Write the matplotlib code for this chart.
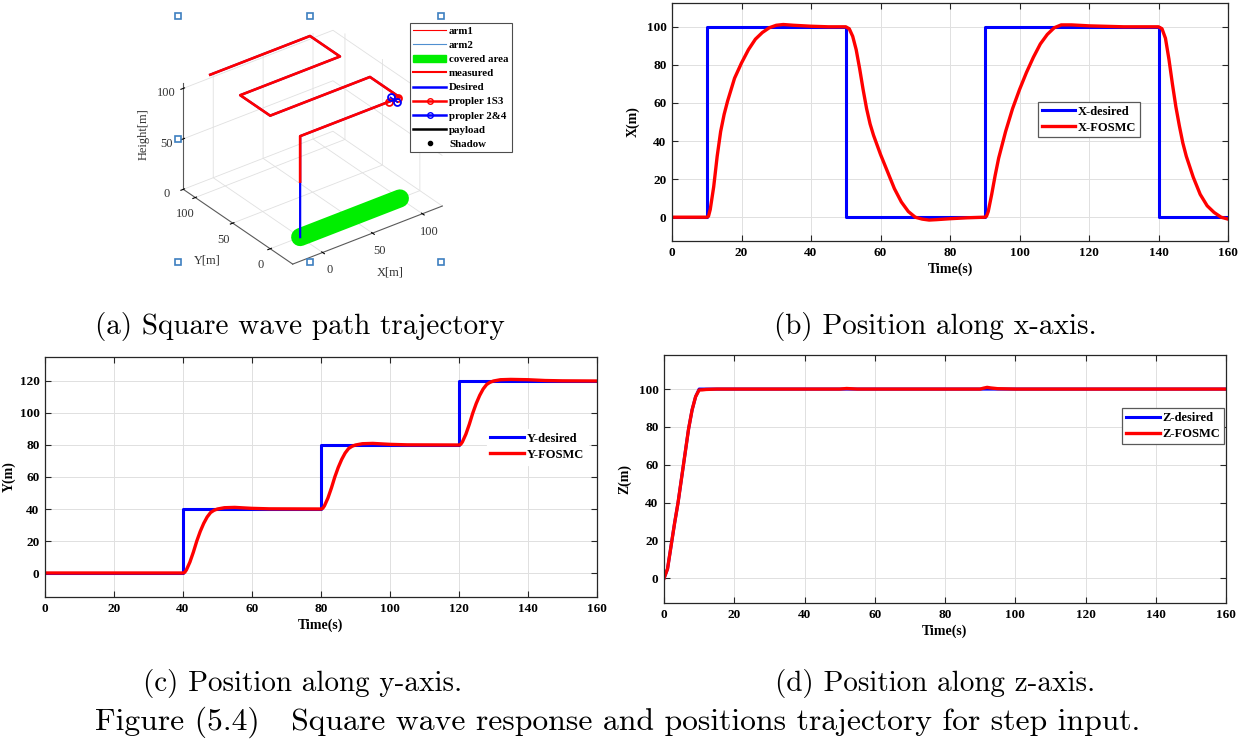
import numpy as np
import matplotlib
matplotlib.use('Agg')
import matplotlib.pyplot as plt
from matplotlib.lines import Line2D
from matplotlib.patches import Patch

# ---- data ----
# (b) x position
t_x_des = [0, 10, 10, 50, 50, 90, 90, 140, 140, 160]
x_des = [0, 0, 100, 100, 0, 0, 100, 100, 0, 0]
t_x_fos = [0, 10, 10.5, 11, 12, 13, 14, 15, 16, 17, 18, 20, 22, 24, 26, 28, 30, 32, 35, 40, 45, 50,
           51, 52, 53, 54, 55, 56, 57, 58, 60, 62, 64, 66, 68, 70, 72, 74, 76, 80, 85, 90,
           90.5, 91, 92, 93, 94, 95, 96, 98, 100, 102, 104, 106, 108, 110, 112, 115, 120, 130, 140,
           141, 142, 143, 144, 145, 146, 147, 148, 150, 152, 154, 156, 158, 160]
x_fos = [0, 0, 0.5, 4, 16, 32, 45, 54, 61, 67, 73, 81, 88, 93.5, 97, 99.5, 100.8, 101.2, 100.8, 100.3, 100, 100,
         99, 95, 88, 78, 67, 57, 49, 43, 33, 24, 15, 8, 3, 0, -1, -1.5, -1.3, -0.8, -0.3, 0,
         0.5, 3, 12, 22, 31, 38, 45, 57, 67, 76, 84, 91, 96, 99.5, 101, 101, 100.5, 100, 100,
         99, 94, 83, 70, 58, 48, 39, 32, 21, 12, 6, 2.5, 0, -1]

# (c) y position
t_y_des = [0, 40, 40, 80, 80, 120, 120, 160]
y_des = [0, 0, 40, 40, 80, 80, 120, 120]
t_y_fos = [0, 40, 40.5, 41, 42, 43, 44, 45, 46, 47, 48, 49, 50, 52, 55, 60, 65,
           80, 80.5, 81, 82, 83, 84, 85, 86, 87, 88, 89, 90, 92, 95, 100, 105,
           120, 120.5, 121, 122, 123, 124, 125, 126, 127, 128, 129, 130, 132, 135, 140, 145, 150, 160]
y_fos = [0, 0, 0.4, 2, 6.8, 13, 20, 26, 31, 35, 37.8, 39.2, 40, 40.8, 41, 40.4, 40.1,
         40, 40.4, 42, 46.8, 53, 60, 66, 71, 75, 77.8, 79.2, 80, 80.8, 81, 80.4, 80.1,
         80, 80.4, 82, 86.8, 93, 100, 106, 111, 115, 117.8, 119.2, 120, 120.8, 121, 120.8, 120.3, 120.1, 120]

# (d) z position
t_z_des = [0, 1, 2, 3, 4, 5, 6, 7, 8, 9, 10, 160]
z_des = [0, 5, 17, 29, 40, 53, 66, 79, 89, 96, 100, 100]
t_z_fos = [0, 1, 2, 3, 4, 5, 6, 7, 8, 9, 10, 11, 12, 15, 50, 52, 55, 90, 91, 92, 93, 95, 100, 160]
z_fos = [0, 5, 17, 29, 40, 53, 66, 79, 89, 96, 99.5, 99.6, 99.8, 100, 100, 100.3, 100, 100, 100.5, 100.9,
         100.6, 100.2, 100, 100]

# (a) 3D path
path_x = [0, 0, 100, 100, 0, 0, 100, 100, 0]
path_y = [0, 0, 0, 40, 40, 80, 80, 120, 120]
path_z = [0, 100, 100, 100, 100, 100, 100, 100, 100]
meas_x = [0, 0, 100, 100, 0, 0, 100, 100, 0]
meas_y = [0, 0, 0, 40, 40, 80, 80, 120, 120]
meas_z = [55, 100, 100, 100, 100, 100, 100, 100, 100]
cover_x = [0, 100]
cover_y = [0, 0]
cover_z = [0, 0]
prop13_x = [89.5, 98.5]
prop13_y = [0, 0]
prop24_x = [94, 94]
prop24_y = [-4.5, 4.5]
prop_z = [100, 100]

W, H = 1244, 744
fig = plt.figure(figsize=(W / 100, H / 100), dpi=100)

tick_font = {'family': 'Liberation Serif', 'weight': 'bold', 'size': 9.5}
lab_font = {'family': 'Liberation Serif', 'weight': 'bold', 'size': 10}
leg_font = {'family': 'Liberation Serif', 'weight': 'bold', 'size': 9}
frame_col = (0.15, 0.15, 0.15)


def px_axes(l, t, r, b, **kw):
    return fig.add_axes([l / W, 1 - b / H, (r - l) / W, (b - t) / H], **kw)


def style2d(ax, ylim, yticks, ylabel):
    ax.set_xlim(0, 160)
    ax.set_ylim(*ylim)
    ax.set_xticks(np.arange(0, 161, 20))
    ax.set_yticks(yticks)
    ax.grid(True, color=(0.88, 0.88, 0.88), linewidth=0.7)
    ax.set_axisbelow(True)
    ax.tick_params(direction='in', length=4, width=0.8, top=True, right=True,
                   color=frame_col, pad=4)
    for lab in ax.get_xticklabels() + ax.get_yticklabels():
        lab.set_fontproperties(tick_font)
    for s in ax.spines.values():
        s.set_color(frame_col)
        s.set_linewidth(0.9)
    ax.set_xlabel('Time(s)', fontdict=lab_font, labelpad=3)
    ax.set_ylabel(ylabel, fontdict=lab_font, labelpad=5)


def small_legend(ax, anchor, edge):
    lg = ax.legend(loc='upper left', bbox_to_anchor=anchor, prop=leg_font, frameon=True,
                   fancybox=False, edgecolor=edge, handlelength=2.7, handletextpad=0.2,
                   borderpad=0.3, labelspacing=0.32, borderaxespad=0, framealpha=1)
    lg.get_frame().set_linewidth(0.9)


# (b)
axb = px_axes(672, 3, 1228, 241)
axb.plot(t_x_des, x_des, color='#0000ff', lw=2.2, label='X-desired')
axb.plot(t_x_fos, x_fos, color='#ff0000', lw=2.4, label='X-FOSMC')
style2d(axb, (-12.5, 112.5), np.arange(0, 101, 20), 'X(m)')
small_legend(axb, (0.658, 0.585), (0.35, 0.35, 0.35))

# (c)
axc = px_axes(45, 357, 597, 597)
axc.plot(t_y_des, y_des, color='#0000ff', lw=2.2, label='Y-desired')
axc.plot(t_y_fos, y_fos, color='#ff0000', lw=2.4, label='Y-FOSMC')
style2d(axc, (-15, 135), np.arange(0, 121, 20), 'Y(m)')
axc.yaxis.labelpad = 3
small_legend(axc, (0.80, 0.70), 'white')

# (d)
axd = px_axes(664, 355, 1226, 603)
axd.plot(t_z_des, z_des, color='#0000ff', lw=2.2, label='Z-desired')
axd.plot(t_z_fos, z_fos, color='#ff0000', lw=2.4, label='Z-FOSMC')
style2d(axd, (-13, 118), np.arange(0, 101, 20), 'Z(m)')
small_legend(axd, (0.815, 0.785), (0.35, 0.35, 0.35))

# (a) 3D trajectory
box = (178, 16, 441, 262)
ax3 = px_axes(box[0], box[1] + 9, box[2], box[3] + 9, projection='3d')
ax3.set_proj_type('ortho')
ax3.view_init(elev=31, azim=-127)
ax3.set_xlim(-30, 120)
ax3.set_ylim(-30, 116)
ax3.set_zlim(0, 105)
ax3.set_box_aspect((1.0, 0.97, 0.66), zoom=1.14)
ax3.plot(cover_x, cover_y, cover_z, color='#00ee00', lw=13, solid_capstyle='round')
ax3.plot(path_x, path_y, path_z, color='#0000ff', lw=1.6)
ax3.plot(meas_x, meas_y, meas_z, color='#ff0000', lw=1.9)
ax3.plot(prop13_x, prop13_y, prop_z, color='#ff0000', lw=1.2, marker='o', ms=5, mfc='none', mew=1.3)
ax3.plot(prop24_x, prop24_y, prop_z, color='#0000ff', lw=1.2, marker='o', ms=5, mfc='none', mew=1.3)
ax3.set_xticks([0, 50, 100])
ax3.set_yticks([0, 50, 100])
ax3.set_zticks([0, 50, 100])
lbl3 = {'family': 'Liberation Serif', 'size': 9, 'color': (0.2, 0.2, 0.2)}
ax3.set_xlabel('X[m]', fontdict=lbl3, labelpad=-2)
ax3.set_ylabel('Y[m]', fontdict=lbl3, labelpad=-2)
ax3.set_zlabel('Height[m]', fontdict=lbl3, labelpad=-7)
for a in (ax3.xaxis, ax3.yaxis, ax3.zaxis):
    a.set_pane_color((1, 1, 1, 0))
    a.pane.set_edgecolor((0.88, 0.88, 0.88))
    a.line.set_color((0.35, 0.35, 0.35))
    a._axinfo['grid'].update(color=(0.88, 0.88, 0.88), linewidth=0.6)
    for lab in a.get_ticklabels():
        lab.set_fontfamily('Liberation Serif')
        lab.set_fontsize(9)
        lab.set_color((0.2, 0.2, 0.2))
ax3.tick_params(pad=-2)

# selection handles around the 3D axes
l, t, r, b = box
hx = [l, (l + r) / 2, r, l, r, l, (l + r) / 2, r]
hy = [t, t, t, (t + b) / 2, (t + b) / 2, b, b, b]
fig.add_artist(Line2D([v / W for v in hx], [1 - v / H for v in hy], transform=fig.transFigure,
                      ls='none', marker='s', ms=4, mfc='white', mec='#3d7fc0', mew=1.2, zorder=5))

handles = [
    Line2D([], [], color='#ff0000', lw=0.8),
    Line2D([], [], color='#4f8fd0', lw=0.8),
    Patch(facecolor='#00ee00', edgecolor='#00ee00'),
    Line2D([], [], color='#ff0000', lw=1.5),
    Line2D([], [], color='#0000ff', lw=1.8),
    Line2D([], [], color='#ff0000', lw=1.8, marker='o', ms=4, mfc='none'),
    Line2D([], [], color='#0000ff', lw=1.8, marker='o', ms=4, mfc='none'),
    Line2D([], [], color='black', lw=1.8),
    Line2D([], [], color='black', ls='none', marker='o', ms=3),
]
labels = ['arm1', 'arm2', 'covered area', 'measured', 'Desired', 'propler 1S3', 'propler 2&4',
          'payload', 'Shadow']
lg3 = fig.legend(handles, labels, loc='upper left', bbox_to_anchor=(410 / W, 1 - 23 / H),
                 prop={'family': 'Liberation Serif', 'weight': 'bold', 'size': 7.8},
                 frameon=True, fancybox=False, edgecolor=(0.3, 0.3, 0.3), handlelength=3.0,
                 handletextpad=0.3, borderpad=0.3, labelspacing=0.42, borderaxespad=0, framealpha=1)
lg3.get_frame().set_linewidth(0.8)

# captions
cap = {'family': 'cmr10', 'size': 21}
fig.text(300 / W, 1 - 326 / H, '(a) Square wave path trajectory', ha='center', va='center', fontdict=cap)
fig.text(935 / W, 1 - 326 / H, '(b) Position along x-axis.', ha='center', va='center', fontdict=cap)
fig.text(303 / W, 1 - 683 / H, '(c) Position along y-axis.', ha='center', va='center', fontdict=cap)
fig.text(935 / W, 1 - 683 / H, '(d) Position along z-axis.', ha='center', va='center', fontdict=cap)
fig.text(618 / W, 1 - 722 / H, 'Figure (5.4)   Square wave response and positions trajectory for step input.',
         ha='center', va='center', fontdict={'family': 'cmr10', 'size': 22.8})

fig.savefig('out.png', dpi=100)
